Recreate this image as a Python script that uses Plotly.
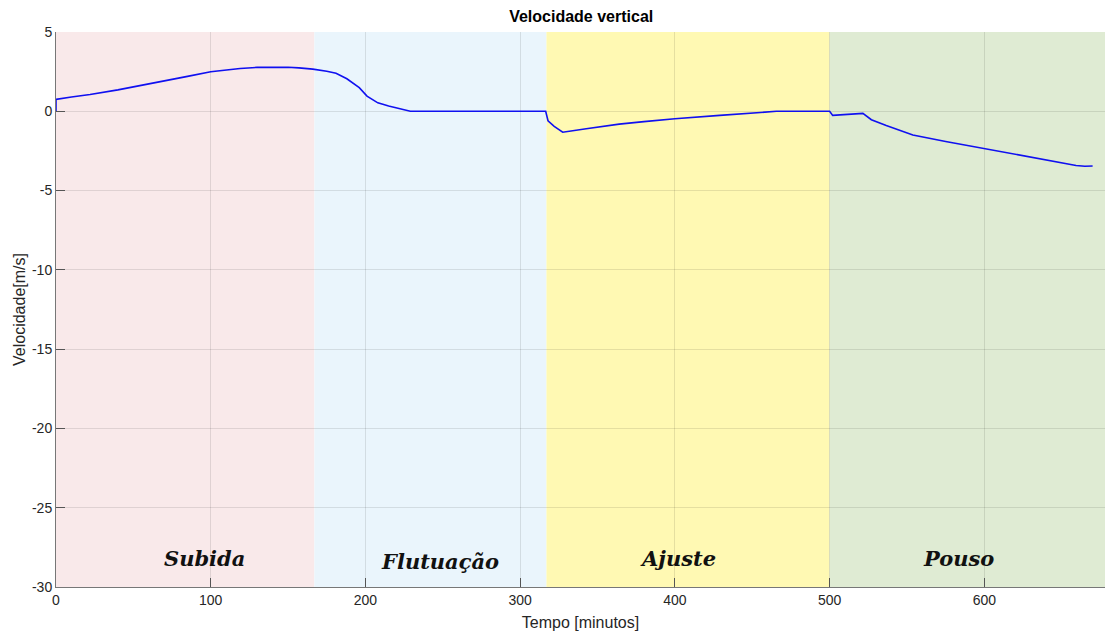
import plotly.graph_objects as go

# Data
tempo = [0, 0, 10, 22, 40, 54, 70, 85, 100, 110, 119, 130, 140, 150, 157, 166,
         175, 181, 188, 196, 201, 208, 215, 222, 229,
         316.5, 318, 322, 327.5, 342.7, 364, 380, 400, 429, 450, 465.6, 500,
         502, 521.5, 524, 527, 536.6, 545, 553.8, 575, 599, 631, 650, 659.3, 665, 670]
velocidade = [0, 0.75, 0.9, 1.06, 1.35, 1.6, 1.9, 2.2, 2.49, 2.62, 2.7, 2.77, 2.79, 2.78, 2.74, 2.66,
              2.53, 2.4, 2.05, 1.49, 0.96, 0.53, 0.33, 0.17, 0,
              0, -0.6, -0.95, -1.32, -1.1, -0.81, -0.65, -0.47, -0.26, -0.1, 0, 0,
              -0.26, -0.13, -0.3, -0.53, -0.9, -1.2, -1.49, -1.9, -2.34, -2.94, -3.28, -3.42, -3.47, -3.45]

fases = ["Subida", "Flutuação", "Ajuste", "Pouso"]
fase_inicio = [0, 167, 317, 500]
fase_fim = [167, 317, 500, 678]
fase_cor = ["#F9E9EA", "#EAF5FC", "#FFF9B3", "#DFEBD3"]
fase_label_x = [96, 248, 402, 583]
fase_label_y = [-28.2, -28.4, -28.2, -28.2]

x_ticks = [0, 100, 200, 300, 400, 500, 600]
y_ticks = [5, 0, -5, -10, -15, -20, -25, -30]
y_tick_text = ["5", "0", "-5", "-10", "-15", "-20", "-25", "-30"]

fig = go.Figure()

for nome, x0, x1, cor, lx, ly in zip(fases, fase_inicio, fase_fim, fase_cor, fase_label_x, fase_label_y):
    fig.add_shape(type="rect", xref="x", yref="y", x0=x0, x1=x1, y0=-30, y1=5,
                  fillcolor=cor, line=dict(width=0), layer="below")
    fig.add_annotation(x=lx, y=ly, xref="x", yref="y", text="<b><i>%s</i></b>" % nome,
                       showarrow=False,
                       font=dict(family="DejaVu Serif, Liberation Serif, serif", size=21, color="#111111"))

fig.add_trace(go.Scatter(x=tempo, y=velocidade, mode="lines",
                         line=dict(color="#1010F0", width=1.6), showlegend=False))

fig.update_layout(
    width=1106, height=637,
    margin=dict(l=56, r=1, t=32, b=50),
    paper_bgcolor="white", plot_bgcolor="white",
    font=dict(family="Liberation Sans, Arial, sans-serif", size=14, color="#262626"),
    title=dict(text="<b>Velocidade vertical</b>", x=0.5255, xanchor="center", y=0.983, yanchor="top",
               font=dict(size=16, color="#000000")),
    xaxis=dict(range=[0, 678], tickvals=x_ticks, ticks="inside", ticklen=9, tickcolor="#555555",
               showgrid=True, gridcolor="rgba(0,0,0,0.1)", zeroline=False,
               showline=True, linecolor="#777777", linewidth=1,
               title=dict(text="Tempo [minutos]", standoff=10, font=dict(size=16)),
               tickfont=dict(size=14)),
    yaxis=dict(range=[-30, 5], tickvals=y_ticks, ticktext=y_tick_text, ticks="inside", ticklen=9,
               tickcolor="#555555",
               showgrid=True, gridcolor="rgba(0,0,0,0.1)", zeroline=False,
               showline=True, linecolor="#777777", linewidth=1,
               title=dict(text="Velocidade[m/s]", standoff=2, font=dict(size=16)),
               tickfont=dict(size=14)),
)

fig.write_html("out.html")
